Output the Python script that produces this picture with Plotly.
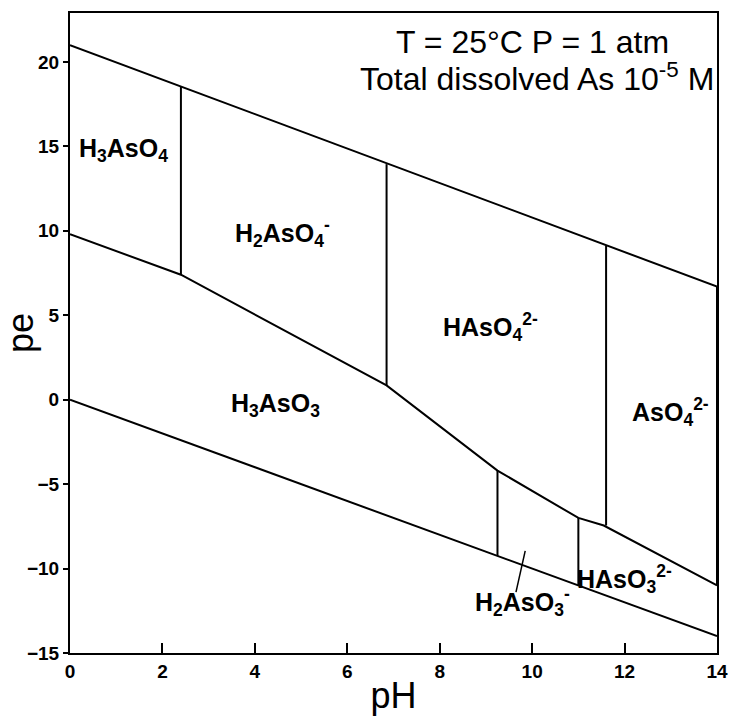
import plotly.graph_objects as go

# Water stability limits
upper_water_ph = [0, 14]
upper_water_pe = [21.0, 6.7]
lower_water_ph = [0, 14]
lower_water_pe = [0.0, -14.0]

# As(V)/As(III) boundary
redox_ph = [0, 2.4, 6.85, 9.25, 11.0, 11.55, 14]
redox_pe = [9.8, 7.4, 0.85, -4.2, -7.0, -7.45, -11.0]

# Vertical (acid-base) boundaries
vert_ph = [2.4, 6.85, 11.6, 9.25, 11.0, 14.0]
vert_top = [18.55, 13.95, 9.1, -4.2, -7.0, 6.7]
vert_bottom = [7.4, 0.85, -7.45, -9.25, -11.0, -11.0]

# Leader line for H2AsO3- label
leader_ph = [9.85, 9.65]
leader_pe = [-8.95, -11.4]

# Region labels
label_text = ["H<sub>3</sub>AsO<sub>4</sub>", "H<sub>2</sub>AsO<sub>4</sub><sup>-</sup>",
              "HAsO<sub>4</sub><sup>2-</sup>", "H<sub>3</sub>AsO<sub>3</sub>",
              "AsO<sub>4</sub><sup>2-</sup>", "HAsO<sub>3</sub><sup>2-</sup>",
              "H<sub>2</sub>AsO<sub>3</sub><sup>-</sup>"]
label_ph = [1.15, 4.6, 9.1, 4.45, 13.0, 12.0, 9.8]
label_pe = [14.8, 9.9, 4.3, -0.3, -0.7, -10.6, -12.0]

x_ticks = [0, 2, 4, 6, 8, 10, 12, 14]
y_ticks = [-15, -10, -5, 0, 5, 10, 15, 20]

FONT = "Liberation Sans Narrow, Liberation Sans, Arial, sans-serif"
line_style = dict(color="black", width=2)

fig = go.Figure()
fig.add_trace(go.Scatter(x=upper_water_ph, y=upper_water_pe, mode="lines", line=line_style, hoverinfo="skip"))
fig.add_trace(go.Scatter(x=lower_water_ph, y=lower_water_pe, mode="lines", line=line_style, hoverinfo="skip"))
fig.add_trace(go.Scatter(x=redox_ph, y=redox_pe, mode="lines", line=line_style, hoverinfo="skip"))

vx, vy = [], []
for p, t, b in zip(vert_ph, vert_top, vert_bottom):
    vx += [p, p, None]
    vy += [t, b, None]
fig.add_trace(go.Scatter(x=vx, y=vy, mode="lines", line=line_style, hoverinfo="skip"))
fig.add_trace(go.Scatter(x=leader_ph, y=leader_pe, mode="lines", line=dict(color="black", width=1.5), hoverinfo="skip"))

for t, x, y in zip(label_text, label_ph, label_pe):
    fig.add_annotation(x=x, y=y, text="<b>" + t + "</b>", showarrow=False,
                       font=dict(family=FONT, size=25, color="black"))

fig.add_annotation(x=10.0, y=21.2, text="T = 25°C P = 1 atm", showarrow=False,
                   font=dict(family=FONT, size=32, color="black"))
fig.add_annotation(x=10.1, y=19.1, text="Total dissolved As 10<sup>-5</sup> M", showarrow=False,
                   font=dict(family=FONT, size=32, color="black"))

fig.update_layout(
    width=729, height=728,
    margin=dict(l=70, r=12, t=13, b=75),
    paper_bgcolor="white", plot_bgcolor="white",
    showlegend=False,
    font=dict(family=FONT, color="black"),
)
fig.update_xaxes(range=[0, 14], tickvals=x_ticks, ticks="inside", ticklen=10, tickwidth=2,
                 tickcolor="black", showgrid=False, zeroline=False, showline=True, linecolor="black",
                 linewidth=2, mirror=True, automargin=False,
                 tickfont=dict(family=FONT, size=19, color="black", weight="bold"),
                 title=dict(text="pH", font=dict(family="Liberation Sans, Arial", size=36, color="black"), standoff=2))
fig.update_yaxes(range=[-15, 22.9], tickvals=y_ticks, ticks="outside", ticklen=5, tickwidth=2,
                 tickcolor="black", showgrid=False, zeroline=False, showline=True, linecolor="black",
                 linewidth=2, mirror=True, automargin=False,
                 tickfont=dict(family=FONT, size=19, color="black", weight="bold"),
                 title=dict(text="pe", font=dict(family="Liberation Sans, Arial", size=36, color="black"), standoff=2))

# Remove the default page margin so the 729x728 figure fills the window exactly.
fig.write_html("out.html", config={"displayModeBar": False},
               post_script="document.body.style.margin='0';document.body.style.overflow='hidden';")
